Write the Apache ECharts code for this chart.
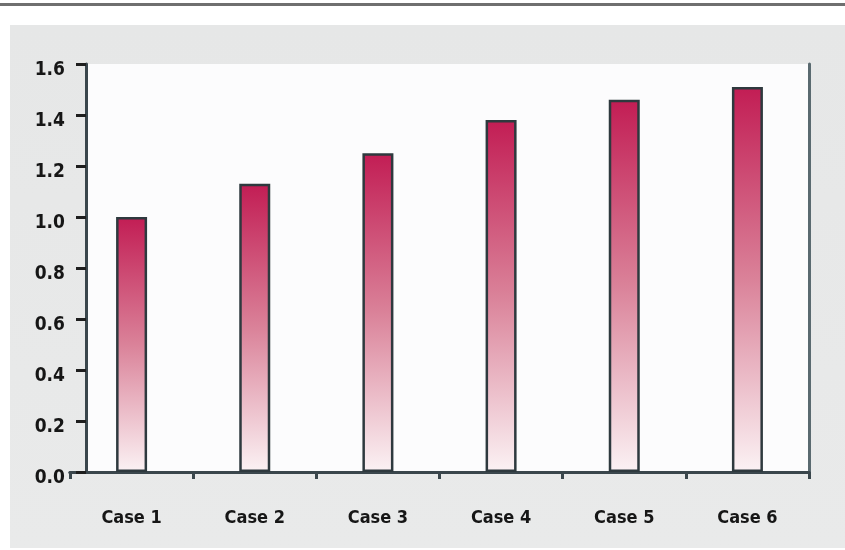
<!DOCTYPE html>
<html>
<head>
<meta charset="utf-8">
<script src="https://cdn.jsdelivr.net/npm/echarts@6/dist/echarts.min.js"></script>
<style>html,body{margin:0;padding:0;background:#fff}#c{width:845px;height:550px}</style>
</head>
<body>
<div id="c"></div>
<script>
const categories = ['Case 1', 'Case 2', 'Case 3', 'Case 4', 'Case 5', 'Case 6'];
const values = [1.0, 1.13, 1.25, 1.38, 1.46, 1.51];
const yTicks = { min: 0, max: 1.6, interval: 0.2 };

const W = 845, H = 550;
const gridLeft = 70, gridRight = 36, gridTop = 64, gridBottom = 78;
const axisShift = 16;
const narrow = "'Liberation Sans Narrow','DejaVu Sans Condensed','Roboto Condensed','Roboto',sans-serif";

const chart = echarts.init(document.getElementById('c'), null, { renderer: 'canvas' });
const lineColor = '#3a464c';
chart.setOption({
  backgroundColor: '#ffffff',
  animation: false,
  graphic: [
    { type: 'rect', z: -20, shape: { x: 0, y: 3, width: W, height: 3 }, style: { fill: '#6f6f6f' } },
    { type: 'rect', z: -20, shape: { x: 10, y: 25, width: W - 10, height: 523 },
      style: { fill: new echarts.graphic.LinearGradient(0, 0, 0, 1, [{ offset: 0, color: '#e6e7e7' }, { offset: 1, color: '#e9eaea' }]) } },
    { type: 'rect', z: -10, shape: { x: gridLeft + axisShift, y: gridTop, width: W - gridRight - gridLeft - axisShift, height: H - gridTop - gridBottom },
      style: { fill: '#fcfcfd' } }
  ],
  grid: { left: gridLeft, right: gridRight, top: gridTop, bottom: gridBottom, containLabel: false },
  xAxis: [{
    type: 'category', data: categories, position: 'bottom',
    axisLine: { show: true, lineStyle: { color: lineColor, width: 3 } },
    axisTick: { show: true, length: 7, lineStyle: { color: lineColor, width: 3 } },
    axisLabel: { color: '#161616', fontFamily: narrow, fontWeight: 'bold', fontSize: 18, margin: 37 }
  }, {
    type: 'category', data: categories, position: 'top',
    axisLine: { show: true, lineStyle: { color: lineColor, width: 3 } },
    axisTick: { show: false }, axisLabel: { show: false }
  }],
  yAxis: [{
    type: 'value', min: yTicks.min, max: yTicks.max, interval: yTicks.interval, offset: -axisShift,
    axisLine: { show: true, lineStyle: { color: lineColor, width: 3 } },
    axisTick: { show: true, length: 10, lineStyle: { color: '#1e1e1e', width: 3 } },
    splitLine: { show: false },
    axisLabel: { color: '#161616', fontFamily: narrow, fontWeight: 'bold', fontSize: 19, margin: 21,
      verticalAlign: 'top', lineHeight: 12, formatter: v => v.toFixed(1) }
  }, {
    type: 'value', min: yTicks.min, max: yTicks.max, interval: yTicks.interval, position: 'right',
    axisLine: { show: true, lineStyle: { color: '#5a6a70', width: 3 } },
    axisTick: { show: false }, axisLabel: { show: false }, splitLine: { show: false }
  }],
  series: [{
    type: 'bar', data: values, barWidth: 31, z: 3,
    itemStyle: {
      color: new echarts.graphic.LinearGradient(0, 0, 0, 1, [
        { offset: 0, color: '#c21d54' },
        { offset: 0.5, color: '#da8299' },
        { offset: 1, color: '#fbf2f4' }
      ]),
      borderColor: '#2e393e', borderWidth: 2.5
    }
  }]
});
</script>
</body>
</html>
